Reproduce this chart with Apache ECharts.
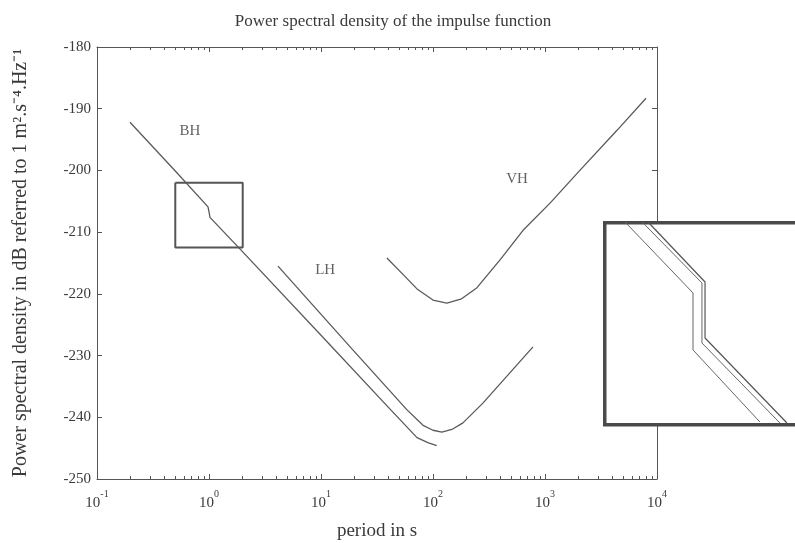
<!DOCTYPE html>
<html>
<head>
<meta charset="utf-8">
<script src="https://cdn.jsdelivr.net/npm/echarts@6/dist/echarts.min.js"></script>
<style>
html,body{margin:0;padding:0;background:#fff;}
#chart{width:795px;height:543px;}
</style>
</head>
<body>
<div id="chart"></div>
<script>
// ---- data (period in s, PSD in dB) ----
var bhT  = [0.197, 0.5, 0.98, 1.0, 1.02, 2, 10, 40, 72, 90, 108];
var bhDB = [-192.2, -200.1, -205.9, -206.7, -207.6, -213.2, -226.7, -238.4, -243.3, -244.1, -244.6];

var lhT  = [4.13, 18.2, 58.6, 81.5, 100, 120, 150, 185, 279, 781];
var lhDB = [-215.5, -228.6, -238.8, -241.3, -242.1, -242.4, -241.9, -240.9, -237.7, -228.6];

var vhT  = [38.8, 55, 72, 100, 133, 180, 247, 400, 637, 1109, 2000, 4395, 7980];
var vhDB = [-214.2, -217.0, -219.2, -221.0, -221.5, -220.8, -219.0, -214.4, -209.7, -205.3, -200.2, -193.5, -188.3];

// zoom box (main plot) and inset curves
var boxT  = [0.5, 2];
var boxDB = [-202, -212.5];

var in1T  = [0.579, 0.911, 0.911, 1.423];
var in1DB = [-202.05, -205.74, -208.7, -212.45];
var in2T  = [0.649, 0.967, 0.967, 1.626];
var in2DB = [-202.05, -205.22, -208.34, -212.5];
var in3T  = [0.675, 0.987, 0.987, 1.704];
var in3DB = [-202.05, -205.17, -208.08, -212.5];

// curve labels
var labelNames = ['BH', 'LH', 'VH'];
var labelT     = [0.676, 10.9, 562];
var labelDB    = [-193.6, -216.1, -201.4];

// axes
var xMin = 0.1, xMax = 10000;
var yMin = -250, yMax = -180, yStep = 10;
var xTickExps = [-1, 0, 1, 2, 3, 4];

var titleText = 'Power spectral density of the impulse function';
var xName = 'period in s';
var yName = 'Power spectral density in dB referred to 1 m\u00B2.s\u207B\u2074.Hz\u207B\u00B9';

// ---- build ----
function pairs(xs, ys){ return xs.map(function(x,i){ return [x, ys[i]]; }); }
var boxData = [[boxT[0],boxDB[0]],[boxT[1],boxDB[0]],[boxT[1],boxDB[1]],[boxT[0],boxDB[1]],[boxT[0],boxDB[0]]];

var minorVals = [];
for (var e = -1; e < 4; e++) for (var k = 2; k <= 9; k++) minorVals.push(k * Math.pow(10, e));

var FONT = 'Liberation Serif';
var TXT = '#3a3a3a';
var AX = '#555';
var LINE = '#5a5a5a';

var GL = 97, GT = 47, GW = 560, GH = 432;
var IL = 603, IT = 221, IW = 208, IH = 202;

var chart = echarts.init(document.getElementById('chart'), null, {renderer:'canvas'});

var option = {
  animation: false,
  backgroundColor: '#fff',
  title: {
    text: titleText, left: 388, top: 8, textAlign: 'center',
    textStyle: {fontFamily: FONT, fontSize: 17, fontWeight: 'normal', color: TXT}
  },
  grid: [
    {left: GL, top: GT, width: GW, height: GH, show: false, outerBoundsMode: 'none', containLabel: false},
    {left: GL, top: GT, width: GW, height: GH, show: false, outerBoundsMode: 'none', containLabel: false},
    {left: IL, top: IT, width: IW, height: IH, show: false, outerBoundsMode: 'none', containLabel: false}
  ],
  xAxis: [
    {
      type: 'log', logBase: 10, min: xMin, max: xMax, gridIndex: 0, position: 'bottom',
      name: xName, nameLocation: 'middle', nameGap: 43,
      nameTextStyle: {fontFamily: FONT, fontSize: 19, color: TXT},
      axisLine: {show: true, lineStyle: {color: AX, width: 1}},
      axisTick: {show: true, inside: true, length: 5, lineStyle: {color: AX}},
      splitLine: {show: false}, minorTick: {show: false},
      axisLabel: {
        margin: 10,
        formatter: function(v){
          var ex = Math.round(Math.log10(v));
          if (xTickExps.indexOf(ex) < 0) return '';
          return '{b|10}{s|' + ex + '}';
        },
        rich: {
          b: {fontFamily: FONT, fontSize: 15, color: TXT, lineHeight: 22, verticalAlign: 'bottom'},
          s: {fontFamily: FONT, fontSize: 10, color: TXT, lineHeight: 11, verticalAlign: 'top'}
        }
      }
    },
    {
      type: 'log', logBase: 10, min: xMin, max: xMax, gridIndex: 0, position: 'top',
      axisLine: {show: true, lineStyle: {color: AX, width: 1}},
      axisTick: {show: true, inside: true, length: 5, lineStyle: {color: AX}},
      axisLabel: {show: false}, splitLine: {show: false}
    },
    {
      type: 'log', logBase: 10, min: xMin, max: xMax, gridIndex: 1, position: 'bottom',
      axisLine: {show: false},
      axisTick: {show: true, inside: true, length: 3, customValues: minorVals, lineStyle: {color: AX}},
      axisLabel: {show: false}, splitLine: {show: false}
    },
    {
      type: 'log', logBase: 10, min: xMin, max: xMax, gridIndex: 1, position: 'top',
      axisLine: {show: false},
      axisTick: {show: true, inside: true, length: 3, customValues: minorVals, lineStyle: {color: AX}},
      axisLabel: {show: false}, splitLine: {show: false}
    },
    {
      type: 'log', logBase: 10, min: boxT[0], max: boxT[1], gridIndex: 2, show: false
    }
  ],
  yAxis: [
    {
      type: 'value', min: yMin, max: yMax, interval: yStep, gridIndex: 0, position: 'left',
      name: yName, nameLocation: 'middle', nameGap: 66, nameRotate: 90,
      nameTextStyle: {fontFamily: FONT, fontSize: 20, color: TXT},
      axisLine: {show: true, lineStyle: {color: AX, width: 1}},
      axisTick: {show: true, inside: true, length: 5, lineStyle: {color: AX}},
      splitLine: {show: false},
      axisLabel: {fontFamily: FONT, fontSize: 15, color: TXT, margin: 6}
    },
    {
      type: 'value', min: yMin, max: yMax, interval: yStep, gridIndex: 0, position: 'right',
      axisLine: {show: true, lineStyle: {color: AX, width: 1}},
      axisTick: {show: true, inside: true, length: 5, lineStyle: {color: AX}},
      splitLine: {show: false}, axisLabel: {show: false}
    },
    {type: 'value', min: yMin, max: yMax, gridIndex: 1, show: false},
    {type: 'value', min: boxDB[1], max: boxDB[0], gridIndex: 2, show: false}
  ],
  graphic: [
    {
      type: 'rect', z: 50, left: IL, top: IT,
      shape: {width: IW + 20, height: IH},
      style: {fill: '#fff', stroke: '#4a4a4a', lineWidth: 3.5}
    }
  ],
  series: [
    {type: 'line', name: 'BH', xAxisIndex: 0, yAxisIndex: 0, data: pairs(bhT, bhDB), showSymbol: false, symbol: 'none',
     lineStyle: {color: LINE, width: 1.3}},
    {type: 'line', name: 'LH', xAxisIndex: 0, yAxisIndex: 0, data: pairs(lhT, lhDB), showSymbol: false, symbol: 'none',
     lineStyle: {color: LINE, width: 1.3}},
    {type: 'line', name: 'VH', xAxisIndex: 0, yAxisIndex: 0, data: pairs(vhT, vhDB), showSymbol: false, symbol: 'none',
     lineStyle: {color: LINE, width: 1.3}},
    {type: 'line', name: 'box', xAxisIndex: 0, yAxisIndex: 0, data: boxData, showSymbol: false, symbol: 'none',
     lineStyle: {color: '#555', width: 2}},
    {type: 'scatter', xAxisIndex: 0, yAxisIndex: 0, symbolSize: 0,
     data: labelNames.map(function(n,i){ return {name: n, value: [labelT[i], labelDB[i]]}; }),
     label: {show: true, position: 'inside', formatter: '{b}', fontFamily: FONT, fontSize: 15, color: TXT}},
    {type: 'line', xAxisIndex: 4, yAxisIndex: 3, z: 60, data: pairs(in1T, in1DB), symbol: 'none', clip: true,
     lineStyle: {color: '#666', width: 1}},
    {type: 'line', xAxisIndex: 4, yAxisIndex: 3, z: 60, data: pairs(in2T, in2DB), symbol: 'none', clip: true,
     lineStyle: {color: '#666', width: 1}},
    {type: 'line', xAxisIndex: 4, yAxisIndex: 3, z: 60, data: pairs(in3T, in3DB), symbol: 'none', clip: true,
     lineStyle: {color: '#555', width: 1.2}}
  ]
};
chart.setOption(option);
</script>
</body>
</html>
